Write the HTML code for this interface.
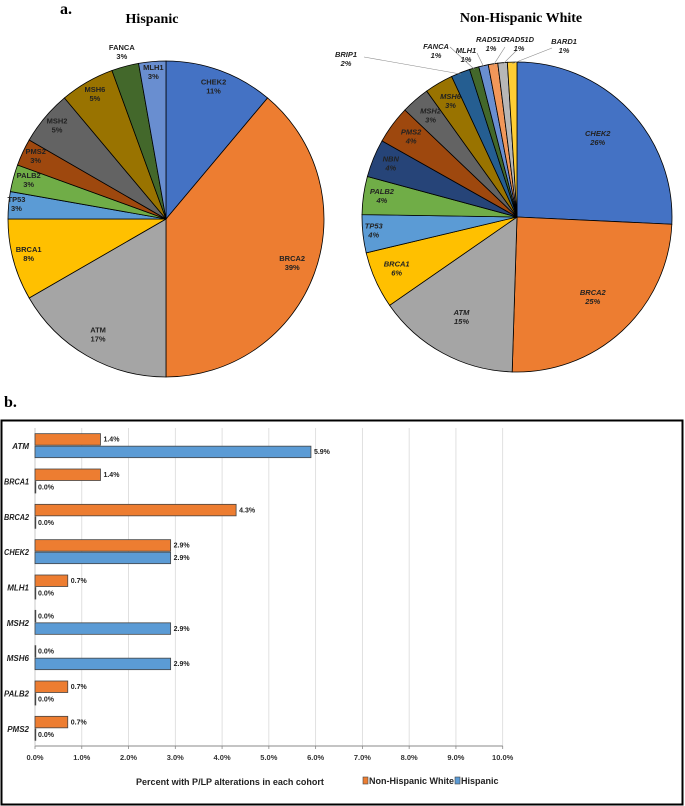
<!DOCTYPE html>
<html><head><meta charset="utf-8">
<style>
html,body{margin:0;padding:0;background:#fff;}
svg{display:block;font-family:"Liberation Sans",Arial,sans-serif;}
</style></head>
<body>
<svg id="fig" width="685" height="806" viewBox="0 0 685 806">
  <text x="60" y="14" font-family="Liberation Serif,serif" font-weight="bold" font-size="16">a.</text>
  <text x="152" y="23" text-anchor="middle" font-family="Liberation Serif,serif" font-weight="bold" font-size="14">Hispanic</text>
  <text x="521" y="22" text-anchor="middle" font-family="Liberation Serif,serif" font-weight="bold" font-size="14">Non-Hispanic White</text>
  <g id="pie1"></g>
  <g id="pie2"></g>
  <text x="4" y="407" font-family="Liberation Serif,serif" font-weight="bold" font-size="16">b.</text>
  <rect x="1.5" y="420.5" width="681" height="384" fill="none" stroke="#000" stroke-width="2"/>
  <g id="bars"></g>
</svg>
<script>
// ---------- Pie data ----------
const hispGenes = ["CHEK2","BRCA2","ATM","BRCA1","TP53","PALB2","PMS2","MSH2","MSH6","FANCA","MLH1"];
const hispCounts = [4,14,6,3,1,1,1,2,2,1,1];
const hispPctLabels = ["11%","39%","17%","8%","3%","3%","3%","5%","5%","3%","3%"];
const nhwGenes = ["CHEK2","BRCA2","ATM","BRCA1","TP53","PALB2","NBN","PMS2","MSH2","MSH6","BRIP1","FANCA","MLH1","RAD51C","RAD51D","BARD1"];
const nhwValues = [26,25,15,6,4,4,4,4,3,3,2,1,1,1,1,1];
const nhwPctLabels = ["26%","25%","15%","6%","4%","4%","4%","4%","3%","3%","2%","1%","1%","1%","1%","1%"];

// ---------- Bar data ----------
const barGenes = ["ATM","BRCA1","BRCA2","CHEK2","MLH1","MSH2","MSH6","PALB2","PMS2"];
const nhwBar = [1.4,1.4,4.3,2.9,0.7,0,0,0.7,0.7];
const hispBar = [5.9,0,0,2.9,0,2.9,2.9,0,0];
const xTicks = [0,1,2,3,4,5,6,7,8,9,10];

const NS="http://www.w3.org/2000/svg";
function mk(tag,attrs,parent){const e=document.createElementNS(NS,tag);for(const k in attrs)e.setAttribute(k,attrs[k]);parent.appendChild(e);return e;}

const colors = {CHEK2:"#4472C4",BRCA2:"#ED7D31",ATM:"#A5A5A5",BRCA1:"#FFC000",TP53:"#5B9BD5",PALB2:"#70AD47",NBN:"#264478",PMS2:"#9E480E",MSH2:"#636363",MSH6:"#997300",BRIP1:"#255E91",FANCA:"#43682B",MLH1:"#698ED0",RAD51C:"#F1975A",RAD51D:"#B7B7B7",BARD1:"#FFCD33"};

function pt(cx,cy,r,a){return [cx+r*Math.sin(a), cy-r*Math.cos(a)];}

function drawPie(g,genes,vals,pcts,cx,cy,r,italic,rf,callouts){
  const tot=vals.reduce((a,b)=>a+b,0);
  let a0=0;
  genes.forEach((gname,i)=>{
    const a1=a0+vals[i]/tot*2*Math.PI;
    const p0=pt(cx,cy,r,a0),p1=pt(cx,cy,r,a1);
    const large=(a1-a0)>Math.PI?1:0;
    const p=mk("path",{d:`M${cx},${cy} L${p0[0]},${p0[1]} A${r},${r} 0 ${large} 1 ${p1[0]},${p1[1]} Z`,fill:colors[gname],stroke:"#000","stroke-width":"0.8"},g);
    
    
    const mid=(a0+a1)/2;
    let lx,ly,anchor="middle";
    if(callouts && callouts[gname]){
      const c=callouts[gname];
      lx=c[0]; ly=c[1];
      const e=pt(cx,cy,r*0.99,mid);
      const ln=mk("polyline",{points:`${c[2]},${c[3]} ${e[0]},${e[1]}`,fill:"none",stroke:"#888","stroke-width":"0.6"},g);
      
      
    } else {
      const q=pt(cx,cy,r*(rf[i]||0.9),mid); lx=q[0]; ly=q[1]-4;
    }
    const t=mk("text",{x:lx,y:ly,"text-anchor":anchor,"font-size":"7.5","font-weight":"bold","font-style":italic?"italic":"normal",fill:"#222"},g);
    
    
    const s1=mk("tspan",{x:lx,dy:0},t); s1.textContent=gname;
    const s2=mk("tspan",{x:lx,dy:9},t); s2.textContent=pcts[i];
    a0=a1;
  });
}
const rf1=[0.88,0.85,0.86,0.9,0.95,0.9,0.91,0.9,0.9,1.08,0.92];
drawPie(document.getElementById("pie1"),hispGenes,hispCounts,hispPctLabels,166,219,158,false,rf1,null);
const rf2=[0.72,0.72,0.75,0.85,0.93,0.88,0.88,0.85,0.85,0.85];
const callouts={BRIP1:[346,57,364,57],FANCA:[436,49,450,47],MLH1:[466,53,477,53],RAD51C:[491,42,505,47],RAD51D:[519,42,517,50],BARD1:[564,44,552,48]};
drawPie(document.getElementById("pie2"),nhwGenes,nhwValues,nhwPctLabels,517,217,155,true,rf2,callouts);

// ---------- Bar chart ----------
const bg=document.getElementById("bars");
const X0=35, X1=502.7, Y0=428, Y1=746;
const xs=v=>X0+(v-xTicks[0])/(xTicks[xTicks.length-1]-xTicks[0])*(X1-X0);
const band=(Y1-Y0)/barGenes.length;
xTicks.forEach(t=>{
  const x=xs(t);
  if(t>0){const l=mk("line",{x1:x,x2:x,y1:Y0,y2:Y1,stroke:"#d9d9d9","stroke-width":"0.8"},bg);
  
  }
  const tk=mk("line",{x1:x,x2:x,y1:Y1,y2:Y1+3,stroke:"#888","stroke-width":"0.8"},bg);
  
  
  const tl=mk("text",{x:x,y:Y1+14,"text-anchor":"middle","font-size":"7.5","font-weight":"bold",fill:"#333"},bg);
  
  
  tl.textContent=t.toFixed(1)+"%";
});
const ax=mk("line",{x1:X0,x2:X1,y1:Y1,y2:Y1,stroke:"#888","stroke-width":"1"},bg);


const ay=mk("line",{x1:X0,x2:X0,y1:Y0,y2:Y1,stroke:"#bbb","stroke-width":"0.8"},bg);


const bh=11.5;
barGenes.forEach((gname,i)=>{
  const c=Y0+band*(i+0.5);
  const attrs={x:29,y:c+3.5,"text-anchor":"end","font-size":"8","font-weight":"bold","font-style":"italic",fill:"#222"};
  if(gname.length>=5){attrs.textLength="25";attrs.lengthAdjust="spacingAndGlyphs";}
  const cl=mk("text",attrs,bg);
  
  
  cl.textContent=gname;
  [[nhwBar[i],"#ED7D31",c-bh-0.5,"nhw"],[hispBar[i],"#5B9BD5",c+0.5,"hispanic"]].forEach(([v,col,y,s])=>{
    const w=xs(v)-X0;
    const r=mk("rect",{x:X0,y:y,width:Math.max(w,0.8),height:bh,fill:col,stroke:"#444","stroke-width":"0.8"},bg);
    
    
    const vl=mk("text",{x:X0+w+3,y:y+8,"font-size":"7","font-weight":"bold",fill:"#222"},bg);
    
    
    vl.textContent=v.toFixed(1)+"%";
  });
});
const at=mk("text",{x:230,y:785,"text-anchor":"middle","font-size":"9","font-weight":"bold",fill:"#222"},bg);


at.textContent="Percent with P/LP alterations in each cohort";
const lg1=mk("rect",{x:363,y:777,width:5,height:7,fill:"#ED7D31",stroke:"#444","stroke-width":"0.6"},bg);


const lt1=mk("text",{x:369,y:784,"font-size":"9","font-weight":"bold",fill:"#222"},bg);


lt1.textContent="Non-Hispanic White";
const lg2=mk("rect",{x:455,y:777,width:5,height:7,fill:"#5B9BD5",stroke:"#444","stroke-width":"0.6"},bg);


const lt2=mk("text",{x:461,y:784,"font-size":"9","font-weight":"bold",fill:"#222"},bg);


lt2.textContent="Hispanic";
</script>
</body></html>
